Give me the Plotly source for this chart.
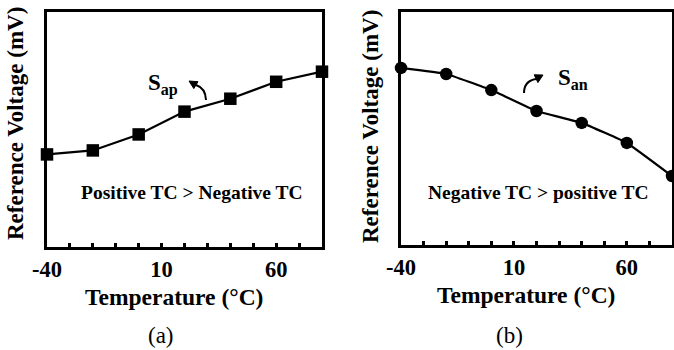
import plotly.graph_objects as go

# ---- data ----
temps = [-40, -20, 0, 20, 40, 60, 80]
vref_ap = [39.4, 41.1, 47.9, 57.6, 63.1, 70.3, 74.6]   # panel (a), arbitrary units
vref_an = [76.0, 73.4, 66.5, 57.5, 52.4, 43.8, 29.6]   # panel (b), arbitrary units
tick_vals = [-40, 10, 60]
tick_text = ["-40", "10", "60"]

W, H = 674, 350
FONT = "Liberation Serif, Times New Roman, serif"

def px(x):
    return x / W

def py(y):
    return 1 - y / H

fig = go.Figure()
fig.add_trace(go.Scatter(x=temps, y=vref_ap, mode="lines+markers", xaxis="x", yaxis="y",
                         line=dict(color="black", width=2.2),
                         marker=dict(symbol="square", size=12.5, color="black"),
                         cliponaxis=False, showlegend=False))
fig.add_trace(go.Scatter(x=temps, y=vref_an, mode="lines+markers", xaxis="x2", yaxis="y2",
                         line=dict(color="black", width=2.2, shape="spline", smoothing=0.3),
                         marker=dict(symbol="circle", size=12.5, color="black"),
                         cliponaxis=False, showlegend=False))

def xaxis(domain, anchor):
    return dict(domain=domain, anchor=anchor, range=[-40, 80], showline=True, linecolor="black",
                linewidth=3, mirror=True, showgrid=False, zeroline=False, automargin=False,
                tickmode="array", tickvals=tick_vals, ticktext=tick_text,
                ticks="inside", ticklen=4, tickwidth=3, tickcolor="black",
                minor=dict(ticks="inside", dtick=10, tick0=-40, ticklen=4, tickwidth=3, tickcolor="black"),
                tickfont=dict(family=FONT, size=22.5, color="black", weight="bold"))

def yaxis(domain, anchor):
    return dict(domain=domain, anchor=anchor, range=[0, 100], showline=True, linecolor="black",
                linewidth=3, mirror=True, showgrid=False, zeroline=False, showticklabels=False,
                ticks="", automargin=False)

fig.update_layout(
    width=W, height=H, margin=dict(l=0, r=0, t=0, b=0, pad=0), autosize=False,
    paper_bgcolor="white", plot_bgcolor="white",
    font=dict(family=FONT, color="black"),
    xaxis=xaxis([px(47), px(322)], "y"),
    yaxis=yaxis([py(247), py(12)], "x"),
    xaxis2=xaxis([px(401), px(672)], "y2"),
    yaxis2=yaxis([py(245), py(12)], "x2"),
)

ann = []
def text(x, y, t, size, bold=True, angle=0):
    ann.append(dict(x=px(x), y=py(y), xref="paper", yref="paper", text=t, showarrow=False,
                    textangle=angle, xanchor="center", yanchor="middle",
                    font=dict(family=FONT, size=size, color="black", weight="bold" if bold else "normal")))

text(15, 124, "Reference Voltage (mV)", 23, angle=-90)
text(370, 127, "Reference Voltage (mV)", 23, angle=-90)
text(174, 297, "Temperature (°C)", 23.5)
text(526, 295, "Temperature (°C)", 23.5)
text(161, 335, "(a)", 23, bold=False)
text(509, 335, "(b)", 23, bold=False)
text(192, 193, "Positive TC > Negative TC", 19.5)
text(538, 193, "Negative TC > positive TC", 19.5)
text(162.5, 84, "S<sub>ap</sub>", 23)
text(573, 79, "S<sub>an</sub>", 23)
fig.update_layout(annotations=ann)

def curve(pts):
    (x0, y0), (cx, cy), (x1, y1) = pts
    return f"M {px(x0)},{py(y0)} Q {px(cx)},{py(cy)} {px(x1)},{py(y1)}"

def tri(pts):
    s = " L ".join(f"{px(a)},{py(b)}" for a, b in pts)
    return f"M {s} Z"

fig.update_layout(shapes=[
    dict(type="path", xref="paper", yref="paper", path=curve([(206, 100), (205.5, 88), (196, 85)]),
         line=dict(color="black", width=2)),
    dict(type="path", xref="paper", yref="paper", path=tri([(189, 81), (198, 81.7), (193.8, 88.6)]),
         line=dict(color="black", width=1), fillcolor="black"),
    dict(type="path", xref="paper", yref="paper", path=curve([(524, 93), (524, 81), (536, 79)]),
         line=dict(color="black", width=2)),
    dict(type="path", xref="paper", yref="paper", path=tri([(543, 75), (534.2, 74.8), (537.9, 82.6)]),
         line=dict(color="black", width=1), fillcolor="black"),
])

fig.write_html("out.html")
